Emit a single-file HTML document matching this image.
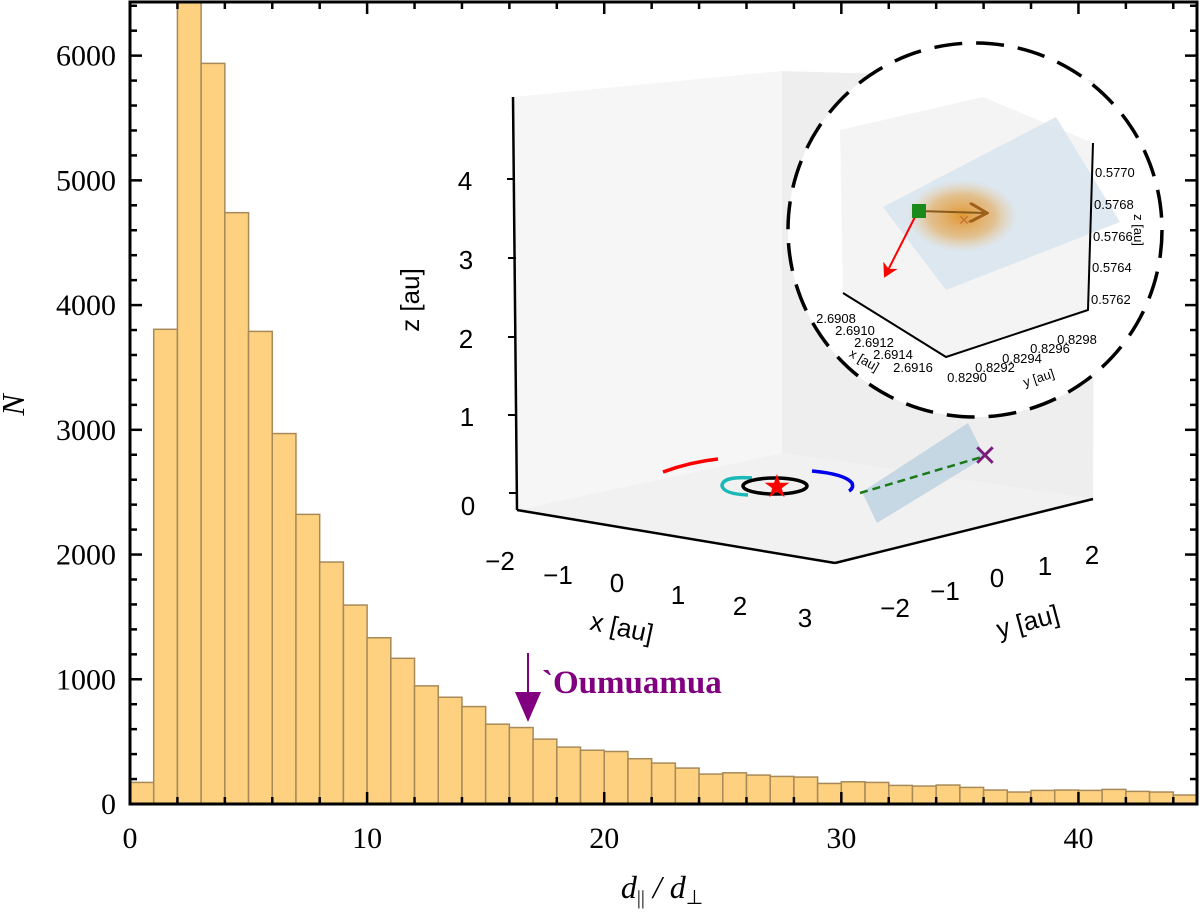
<!DOCTYPE html>
<html><head><meta charset="utf-8"><style>
html,body{margin:0;padding:0;background:#fff;}
svg{display:block;}
.tk{font-family:"Liberation Serif",serif;font-size:30px;fill:#000;}
.s{font-family:"Liberation Sans",sans-serif;fill:#000;}
</style></head><body>
<svg id="chart" width="1200" height="915" viewBox="0 0 1200 915" xmlns="http://www.w3.org/2000/svg">
<defs>
<radialGradient id="cloud" cx="50%" cy="50%" r="50%">
<stop offset="0" stop-color="#e08a10" stop-opacity="0.85"/>
<stop offset="0.6" stop-color="#e8a040" stop-opacity="0.55"/>
<stop offset="1" stop-color="#f0c080" stop-opacity="0"/>
</radialGradient>
<marker id="ahR" markerWidth="8" markerHeight="8" refX="6" refY="4" orient="auto"><path d="M0,0 L7,4 L0,8 L2,4 Z" fill="#f00"/></marker>
<marker id="ahB" markerWidth="10" markerHeight="10" refX="8" refY="5" orient="auto"><path d="M0,0 L9,5 L0,10" fill="none" stroke="#a0601a" stroke-width="1.5"/></marker>
</defs>
<g id="bars"></g>
<g id="axes"></g>

<g>
<line x1="528" y1="653" x2="528" y2="700" stroke="#800080" stroke-width="2"/>
<path d="M515,692 L541,692 L528,722 Z" fill="#800080"/>
<text x="542" y="693" font-family="Liberation Serif,serif" font-weight="bold" font-size="33" fill="#800080">`Oumuamua</text>
</g>

<g>
<polygon points="513,97 782,71 782,453 517,510" fill="#f6f6f6"/>
<polygon points="782,71 1095,80 1093,499 782,453" fill="#eeeeee"/>
<polygon points="517,510 782,453 1093,499 835,563" fill="#f1f1f1"/>
<line x1="513" y1="97" x2="517" y2="510" stroke="#000" stroke-width="2.5"/>
<g stroke="#000" stroke-width="2">
<line x1="507" y1="179" x2="515" y2="179"/><line x1="508" y1="258" x2="516" y2="258"/><line x1="508" y1="337" x2="516" y2="337"/><line x1="508" y1="415" x2="516" y2="415"/><line x1="509" y1="493" x2="517" y2="493"/>
</g>
<g class="s" font-size="26" text-anchor="middle">
<text x="465" y="190">4</text><text x="466" y="269">3</text><text x="466" y="348">2</text><text x="467" y="426">1</text><text x="468" y="515">0</text>
</g>
<text class="s" font-size="26" transform="translate(419,300) rotate(-90)" text-anchor="middle">z [au]</text>
<line x1="517" y1="510" x2="835" y2="563" stroke="#000" stroke-width="2.5"/>
<line x1="835" y1="563" x2="1093" y2="499" stroke="#000" stroke-width="2.5"/>
<g class="s" font-size="26" text-anchor="middle">
<text x="500" y="570">−2</text><text x="558" y="584">−1</text><text x="617" y="592">0</text><text x="678" y="604">1</text><text x="740" y="615">2</text><text x="805" y="627">3</text>
</g>
<text class="s" font-size="26" transform="translate(620,636) rotate(12)" text-anchor="middle">x [au]</text>
<g class="s" font-size="26" text-anchor="middle">
<text x="895" y="617">−2</text><text x="945" y="600">−1</text><text x="997" y="587">0</text><text x="1045" y="575">1</text><text x="1092" y="564">2</text>
</g>
<text class="s" font-size="26" transform="translate(1030,630) rotate(-15)" text-anchor="middle">y [au]</text>
<path d="M663,472 Q690,462 718,459" stroke="#f00" stroke-width="3.5" fill="none"/>
<path d="M752,478 Q722,476 722,486 Q724,494 748,495" stroke="#1ab8b8" stroke-width="3.5" fill="none"/>
<ellipse cx="775" cy="486" rx="32" ry="8" stroke="#000" stroke-width="3.5" fill="none"/>
<text x="777" y="497" font-size="32" fill="#f00" text-anchor="middle" font-family="DejaVu Sans,sans-serif">★</text>
<path d="M812,471 Q845,474 852,483 Q854,488 849,491" stroke="#0000ee" stroke-width="3.5" fill="none"/>
<polygon points="862,492 968,423 985,457 877,523" fill="#b8cfe0" opacity="0.75"/>
<line x1="860" y1="493" x2="985" y2="456" stroke="#1a7a1a" stroke-width="2.5" stroke-dasharray="8,5"/>
<text x="985" y="466" font-size="30" fill="#7a1a7a" text-anchor="middle" font-family="DejaVu Sans,sans-serif" font-weight="bold">✕</text>
</g>

<g>
<circle cx="975" cy="230" r="187" fill="#fff" stroke="#000" stroke-width="3.5" stroke-dasharray="28,14"/>
<polygon points="840,130 983,97 1093,143 1088,310 946,357 843,293" fill="#f4f4f4"/>
<polygon points="883,207 1056,117 1120,222 946,290" fill="#d6e4ef" opacity="0.8"/>
<ellipse cx="962" cy="216" rx="55" ry="36" fill="url(#cloud)"/>
<line x1="919" y1="211" x2="985" y2="213" stroke="#8a5a1a" stroke-width="2" marker-end="url(#ahB)"/>
<line x1="916" y1="215" x2="885" y2="276" stroke="#f00" stroke-width="2" marker-end="url(#ahR)"/>
<rect x="912" y="204" width="14" height="14" fill="#1a8a1a"/>
<text x="964" y="225" font-size="14" fill="#c8703a" text-anchor="middle" font-family="DejaVu Sans,sans-serif">✕</text>
<polyline points="843,293 946,357 1088,310 1093,143" fill="none" stroke="#000" stroke-width="2"/>
<g class="s" font-size="13">
<text x="1095" y="177">0.5770</text><text x="1094" y="209">0.5768</text><text x="1093" y="241">0.5766</text><text x="1092" y="272">0.5764</text><text x="1091" y="304">0.5762</text>
</g>
<text class="s" font-size="13" transform="translate(1134,230) rotate(90)" text-anchor="middle">z [au]</text>
<g class="s" font-size="13" text-anchor="middle">
<text x="836" y="323">2.6908</text><text x="855" y="335">2.6910</text><text x="874" y="347">2.6912</text><text x="893" y="359">2.6914</text><text x="913" y="372">2.6916</text>
</g>
<text class="s" font-size="13" transform="translate(862,364) rotate(30)" text-anchor="middle">x [au]</text>
<g class="s" font-size="13" text-anchor="middle">
<text x="967" y="382">0.8290</text><text x="995" y="372">0.8292</text><text x="1022" y="363">0.8294</text><text x="1050" y="353">0.8296</text><text x="1077" y="344">0.8298</text>
</g>
<text class="s" font-size="13" transform="translate(1040,382) rotate(-18)" text-anchor="middle">y [au]</text>
</g>

<text x="24" y="405" font-family="Liberation Serif,serif" font-style="italic" font-size="32" transform="rotate(-90 24 405)" text-anchor="middle">N</text>
<text x="662" y="898" font-family="Liberation Serif,serif" font-style="italic" font-size="32" text-anchor="middle">d<tspan font-style="normal" font-size="20" dy="6">||</tspan><tspan dy="-6">  / d</tspan><tspan font-style="normal" font-size="20" dy="6">⊥</tspan></text>
</svg>
<script>
const binStarts = [0,1,2,3,4,5,6,7,8,9,10,11,12,13,14,15,16,17,18,19,20,21,22,23,24,25,26,27,28,29,30,31,32,33,34,35,36,37,38,39,40,41,42,43,44];
const counts = [173,3806,6600,5938,4741,3789,2970,2322,1940,1595,1333,1168,947,856,781,640,613,520,456,431,421,363,328,288,240,250,232,221,216,165,178,173,149,144,152,133,112,96,109,112,109,117,101,96,72];
const xTickVals = [0,10,20,30,40];
const yTickVals = [0,1000,2000,3000,4000,5000,6000];
const binWidth = 1;
const X0=130, X1=1197, Y0=804, Y1=2, XMAX=45, YMAX=6430;
function sx(v){return X0+(v/XMAX)*(X1-X0);}
function sy(v){return Y0-(v/YMAX)*(Y0-Y1);}
const NS='http://www.w3.org/2000/svg';
function mk(tag,attrs,parent){const e=document.createElementNS(NS,tag);for(const k in attrs)e.setAttribute(k,attrs[k]);parent.appendChild(e);return e;}
const bars=document.getElementById('bars');
counts.forEach((c,i)=>{
  const top=Math.max(sy(c),Y1);
  const r=mk('rect',{x:sx(binStarts[i]),y:top,width:sx(binStarts[i]+binWidth)-sx(binStarts[i]),height:Y0-top,fill:'#fdd180',stroke:'#a88a5a','stroke-width':1.5},bars);
  
  
});
const ax=document.getElementById('axes');
const fr=mk('rect',{x:X0,y:Y1,width:X1-X0,height:Y0-Y1,fill:'none',stroke:'#000','stroke-width':3},ax);


for(let v=0;v<=XMAX;v+=2){
  const big=(v%10===0);const L=big?12:7;
  mk('line',{x1:sx(v),y1:Y0,x2:sx(v),y2:Y0-L,stroke:'#000','stroke-width':2.5},ax);
  mk('line',{x1:sx(v),y1:Y1,x2:sx(v),y2:Y1+L,stroke:'#000','stroke-width':2.5},ax);
}
for(let v=0;v<=YMAX;v+=200){
  const big=(v%1000===0);const L=big?12:7;
  mk('line',{x1:X0,y1:sy(v),x2:X0+L,y2:sy(v),stroke:'#000','stroke-width':2.5},ax);
  mk('line',{x1:X1,y1:sy(v),x2:X1-L,y2:sy(v),stroke:'#000','stroke-width':2.5},ax);
}
xTickVals.forEach(v=>{
  const t=mk('text',{x:sx(v),y:Y0+44,'text-anchor':'middle','class':'tk'},ax);
  t.textContent=String(v);
  
  
});
yTickVals.forEach(v=>{
  const t=mk('text',{x:X0-14,y:sy(v)+10,'text-anchor':'end','class':'tk'},ax);
  t.textContent=String(v);
  
  
});
</script>
</body></html>
